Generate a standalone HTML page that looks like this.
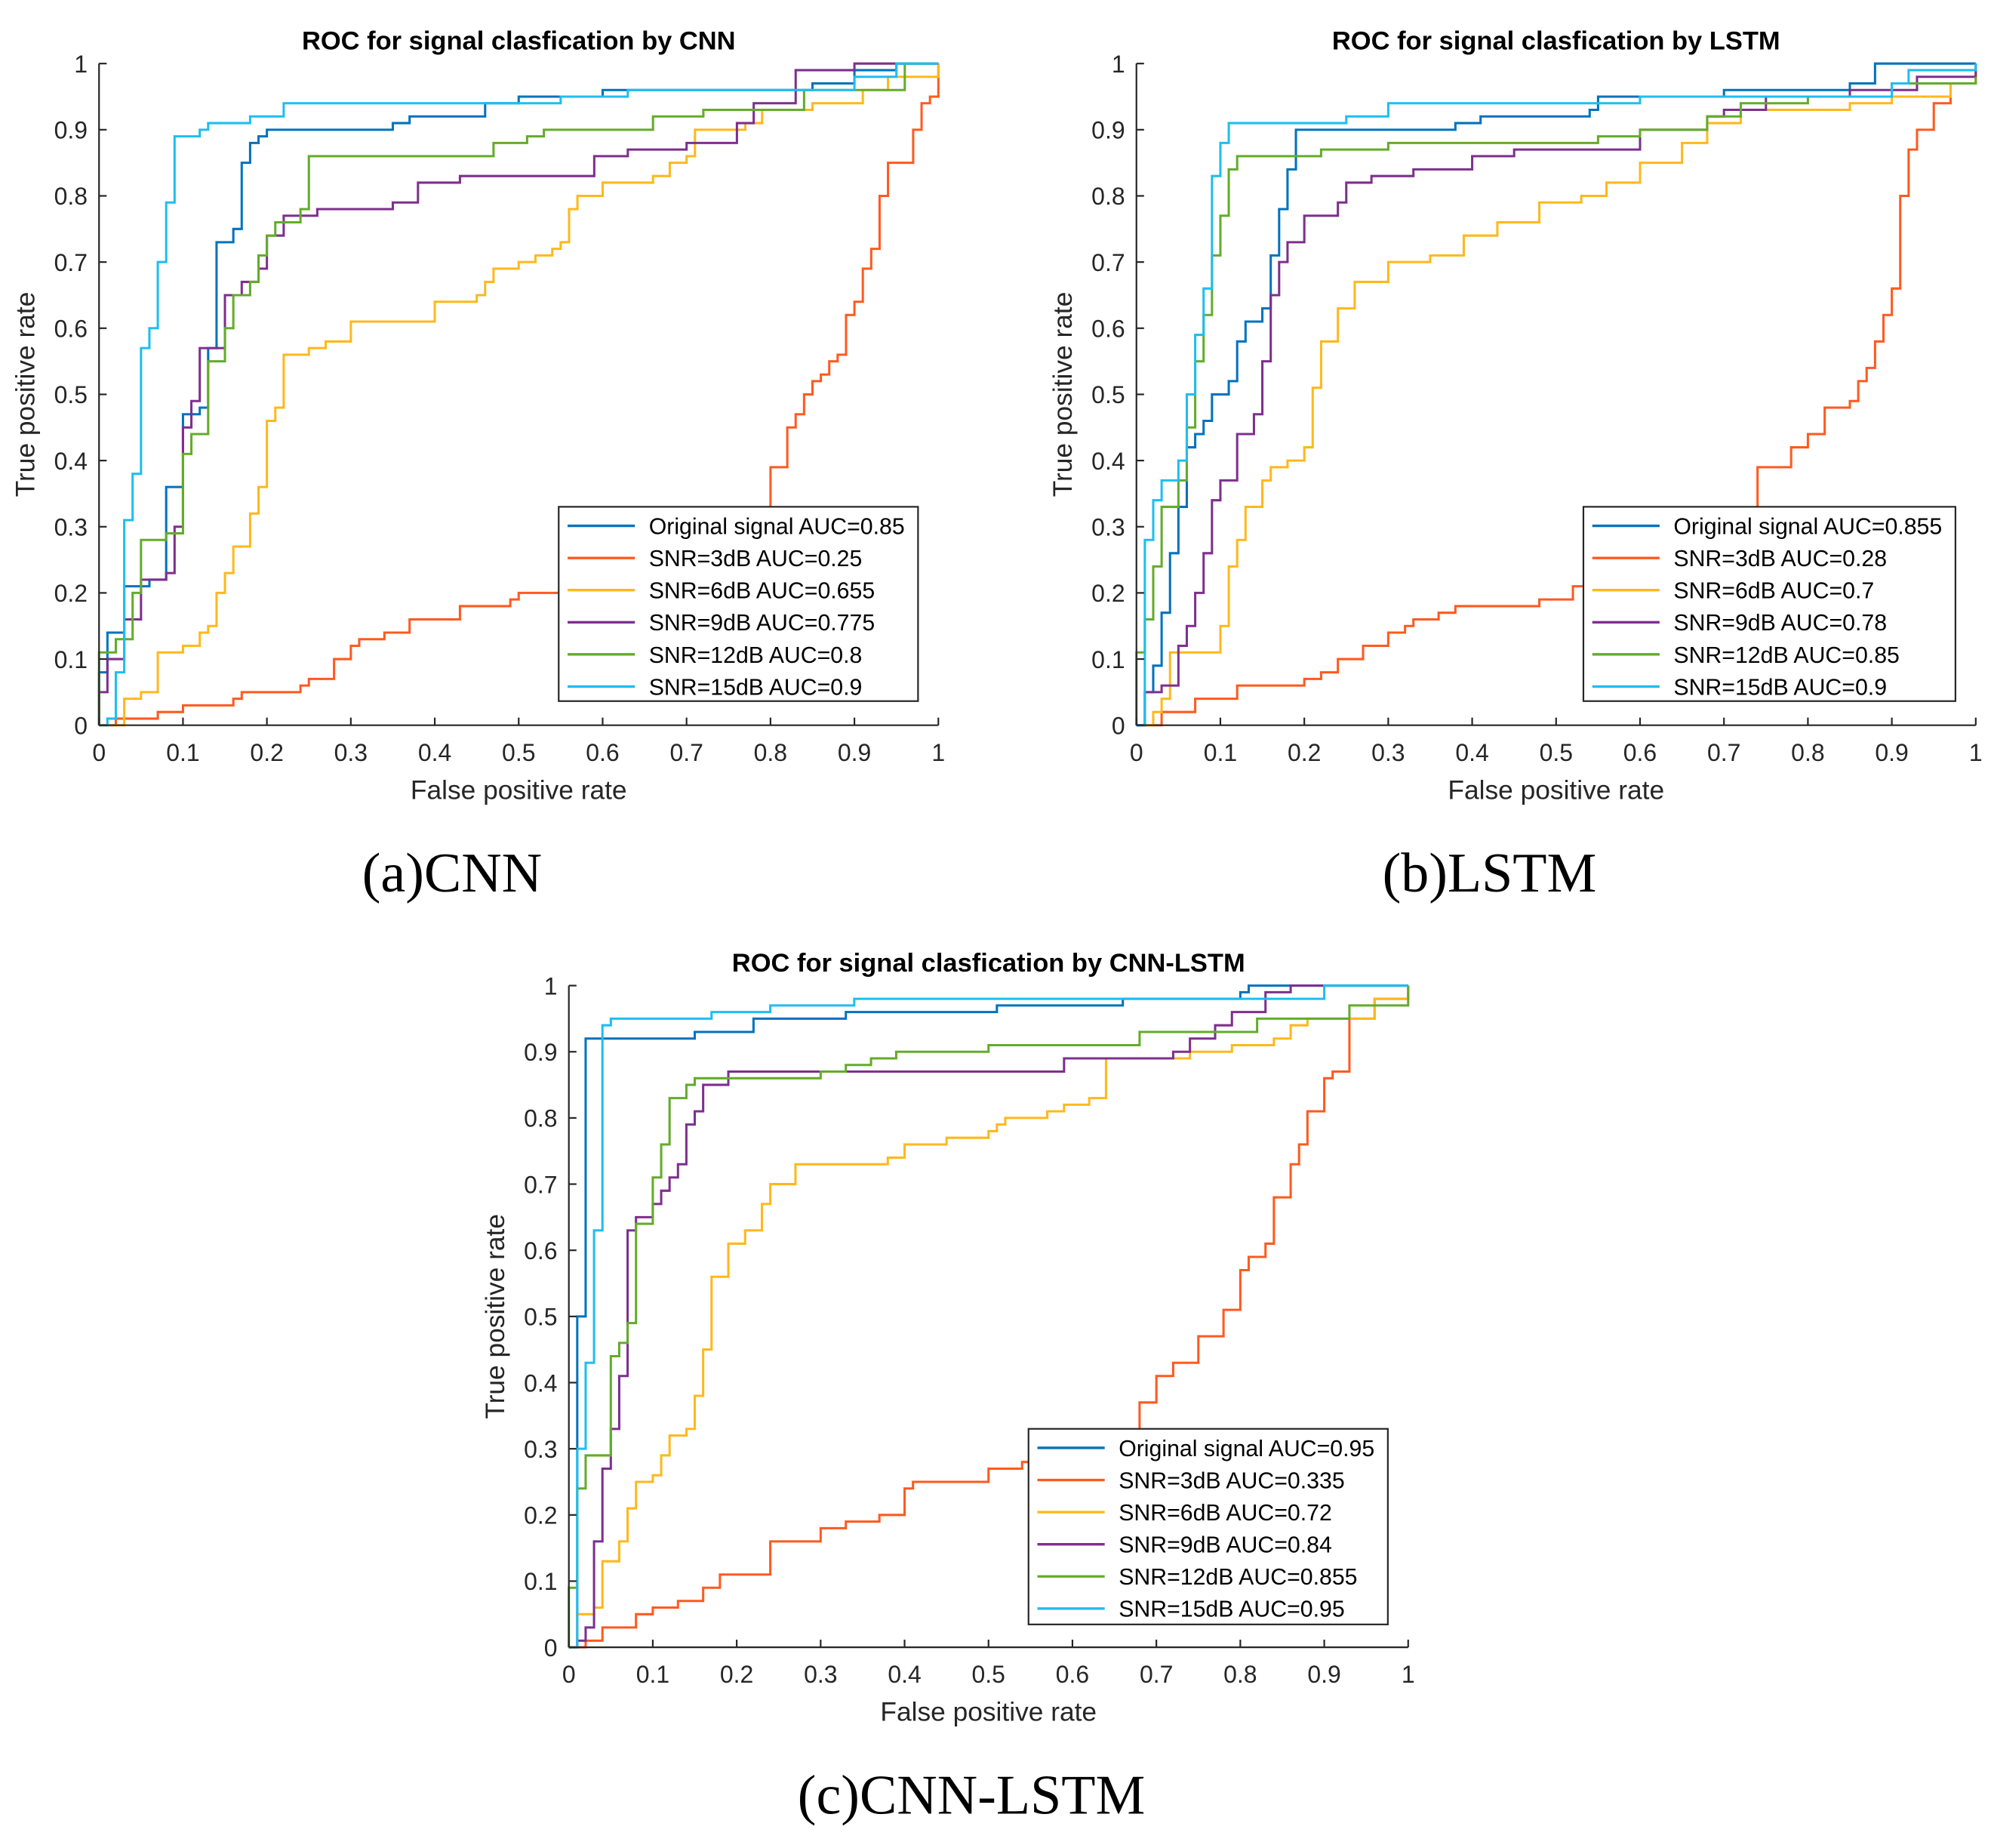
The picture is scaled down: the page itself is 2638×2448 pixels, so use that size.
<!DOCTYPE html>
<html><head><meta charset="utf-8">
<style>
html,body{margin:0;padding:0;background:#fff;}
svg{display:block;}
</style></head>
<body>
<svg id="fig" width="2638" height="2448" viewBox="0 0 1568 1455" xmlns="http://www.w3.org/2000/svg" font-family="Liberation Sans, sans-serif">
<rect width="1568" height="1455" fill="#fff"/>
</svg>
<script>
const xTicks = [0,0.1,0.2,0.3,0.4,0.5,0.6,0.7,0.8,0.9,1];
const yTicks = [0,0.1,0.2,0.3,0.4,0.5,0.6,0.7,0.8,0.9,1];
const tickLabels = ["0","0.1","0.2","0.3","0.4","0.5","0.6","0.7","0.8","0.9","1"];
const seriesColors = ["#0072BD","#FF5A1F","#FFB81C","#7E2F8E","#63AC2A","#1EBEF0"];

const cnnLegend = ["Original signal AUC=0.85","SNR=3dB AUC=0.25","SNR=6dB AUC=0.655","SNR=9dB AUC=0.775","SNR=12dB AUC=0.8","SNR=15dB AUC=0.9"];
const lstmLegend = ["Original signal AUC=0.855","SNR=3dB AUC=0.28","SNR=6dB AUC=0.7","SNR=9dB AUC=0.78","SNR=12dB AUC=0.85","SNR=15dB AUC=0.9"];
const cnnLstmLegend = ["Original signal AUC=0.95","SNR=3dB AUC=0.335","SNR=6dB AUC=0.72","SNR=9dB AUC=0.84","SNR=12dB AUC=0.855","SNR=15dB AUC=0.95"];

const cnnOrig = [[0,0],[0,0.08],[0.01,0.14],[0.03,0.21],[0.06,0.22],[0.08,0.36],[0.1,0.37],[0.1,0.47],[0.12,0.48],[0.13,0.57],[0.14,0.59],[0.14,0.73],[0.16,0.75],[0.17,0.85],[0.18,0.88],[0.19,0.89],[0.2,0.9],[0.35,0.91],[0.37,0.92],[0.46,0.94],[0.5,0.95],[0.6,0.96],[0.85,0.97],[0.9,0.99],[0.95,1],[1,1]];
const cnn3 = [[0,0],[0.02,0.01],[0.07,0.02],[0.1,0.03],[0.16,0.04],[0.17,0.05],[0.24,0.06],[0.25,0.07],[0.28,0.1],[0.3,0.12],[0.31,0.13],[0.34,0.14],[0.37,0.16],[0.43,0.16],[0.43,0.18],[0.49,0.19],[0.5,0.2],[0.55,0.2],[0.59,0.21],[0.75,0.23],[0.8,0.3],[0.8,0.39],[0.82,0.45],[0.83,0.47],[0.84,0.5],[0.85,0.52],[0.86,0.53],[0.87,0.55],[0.88,0.56],[0.89,0.62],[0.9,0.64],[0.91,0.69],[0.92,0.72],[0.93,0.8],[0.94,0.85],[0.97,0.9],[0.98,0.94],[0.99,0.95],[1,0.99],[1,1]];
const cnn6 = [[0,0],[0.03,0.01],[0.03,0.04],[0.05,0.05],[0.07,0.08],[0.07,0.11],[0.1,0.12],[0.12,0.14],[0.13,0.15],[0.14,0.2],[0.15,0.23],[0.16,0.27],[0.18,0.32],[0.19,0.36],[0.2,0.46],[0.21,0.48],[0.22,0.51],[0.22,0.56],[0.25,0.57],[0.27,0.58],[0.3,0.61],[0.38,0.61],[0.4,0.64],[0.45,0.65],[0.46,0.67],[0.47,0.69],[0.5,0.7],[0.52,0.71],[0.54,0.72],[0.55,0.73],[0.56,0.78],[0.57,0.8],[0.6,0.82],[0.66,0.83],[0.68,0.85],[0.7,0.86],[0.71,0.9],[0.77,0.91],[0.79,0.93],[0.85,0.94],[0.91,0.96],[0.94,0.98],[1,0.99],[1,1]];
const cnn9 = [[0,0],[0,0.05],[0.01,0.1],[0.03,0.16],[0.05,0.19],[0.05,0.22],[0.08,0.23],[0.09,0.3],[0.1,0.45],[0.11,0.49],[0.12,0.52],[0.12,0.57],[0.15,0.6],[0.15,0.65],[0.17,0.67],[0.19,0.69],[0.2,0.74],[0.22,0.77],[0.26,0.78],[0.35,0.79],[0.38,0.82],[0.43,0.83],[0.58,0.83],[0.59,0.86],[0.63,0.87],[0.7,0.88],[0.76,0.91],[0.78,0.94],[0.83,0.95],[0.83,0.99],[0.9,1],[1,1]];
const cnn12 = [[0,0],[0,0.11],[0.02,0.13],[0.04,0.2],[0.05,0.22],[0.05,0.28],[0.08,0.29],[0.1,0.41],[0.11,0.44],[0.13,0.45],[0.13,0.55],[0.15,0.6],[0.16,0.65],[0.18,0.67],[0.19,0.71],[0.2,0.74],[0.21,0.76],[0.24,0.78],[0.25,0.81],[0.25,0.86],[0.46,0.86],[0.47,0.88],[0.51,0.89],[0.53,0.9],[0.65,0.9],[0.66,0.92],[0.72,0.93],[0.84,0.96],[0.96,0.97],[0.96,1],[1,1]];
const cnn15 = [[0,0],[0.01,0.01],[0.02,0.08],[0.03,0.17],[0.03,0.31],[0.04,0.38],[0.05,0.57],[0.06,0.6],[0.07,0.7],[0.08,0.79],[0.09,0.89],[0.12,0.9],[0.13,0.91],[0.18,0.92],[0.22,0.94],[0.54,0.94],[0.55,0.95],[0.63,0.96],[0.85,0.96],[0.9,0.98],[0.95,1],[1,1]];

const lstmOrig = [[0,0],[0.01,0.05],[0.02,0.09],[0.03,0.17],[0.04,0.26],[0.05,0.33],[0.06,0.42],[0.07,0.44],[0.08,0.46],[0.09,0.5],[0.11,0.52],[0.12,0.58],[0.13,0.61],[0.15,0.63],[0.16,0.71],[0.17,0.78],[0.18,0.84],[0.19,0.9],[0.36,0.9],[0.38,0.91],[0.41,0.92],[0.54,0.93],[0.55,0.95],[0.7,0.96],[0.85,0.97],[0.88,1],[1,1]];
const lstm3 = [[0,0],[0.03,0.02],[0.07,0.04],[0.12,0.06],[0.2,0.07],[0.22,0.08],[0.24,0.1],[0.27,0.12],[0.3,0.14],[0.32,0.15],[0.33,0.16],[0.36,0.17],[0.38,0.18],[0.48,0.19],[0.52,0.21],[0.55,0.24],[0.7,0.27],[0.73,0.3],[0.74,0.39],[0.78,0.42],[0.8,0.44],[0.82,0.48],[0.85,0.49],[0.86,0.52],[0.87,0.54],[0.88,0.58],[0.89,0.62],[0.9,0.66],[0.91,0.8],[0.92,0.87],[0.93,0.9],[0.95,0.94],[0.97,0.97],[1,1]];
const lstm6 = [[0,0],[0.02,0.02],[0.03,0.04],[0.04,0.11],[0.09,0.11],[0.1,0.15],[0.11,0.24],[0.12,0.28],[0.13,0.33],[0.15,0.37],[0.16,0.39],[0.18,0.4],[0.2,0.42],[0.21,0.51],[0.22,0.58],[0.24,0.63],[0.26,0.67],[0.3,0.7],[0.35,0.71],[0.39,0.74],[0.43,0.76],[0.48,0.79],[0.53,0.8],[0.56,0.82],[0.6,0.85],[0.65,0.88],[0.68,0.91],[0.72,0.93],[0.85,0.94],[0.9,0.95],[0.97,0.97],[1,1]];
const lstm9 = [[0,0],[0.01,0.05],[0.03,0.06],[0.05,0.12],[0.06,0.15],[0.07,0.2],[0.08,0.26],[0.09,0.34],[0.1,0.37],[0.12,0.44],[0.14,0.47],[0.15,0.55],[0.16,0.65],[0.17,0.7],[0.18,0.73],[0.2,0.77],[0.24,0.79],[0.25,0.82],[0.28,0.83],[0.33,0.84],[0.4,0.86],[0.45,0.87],[0.58,0.87],[0.6,0.9],[0.68,0.92],[0.7,0.93],[0.75,0.95],[0.85,0.96],[0.93,0.98],[1,1]];
const lstm12 = [[0,0],[0,0.11],[0.01,0.16],[0.02,0.24],[0.03,0.33],[0.05,0.37],[0.06,0.45],[0.07,0.55],[0.08,0.62],[0.09,0.71],[0.1,0.77],[0.11,0.84],[0.12,0.86],[0.2,0.86],[0.22,0.87],[0.3,0.88],[0.55,0.89],[0.6,0.9],[0.68,0.92],[0.72,0.94],[0.8,0.95],[0.9,0.97],[1,0.98]];
const lstm15 = [[0,0],[0.01,0.28],[0.02,0.34],[0.03,0.37],[0.05,0.4],[0.06,0.5],[0.07,0.59],[0.08,0.66],[0.09,0.83],[0.1,0.88],[0.11,0.91],[0.25,0.92],[0.3,0.94],[0.55,0.94],[0.6,0.95],[0.9,0.97],[0.92,0.99],[1,1]];

const clOrig = [[0,0],[0.01,0.5],[0.02,0.92],[0.15,0.92],[0.15,0.93],[0.22,0.93],[0.22,0.95],[0.33,0.96],[0.51,0.96],[0.51,0.97],[0.66,0.97],[0.66,0.98],[0.78,0.98],[0.8,0.99],[0.81,1],[1,1]];
const cl3 = [[0,0],[0.02,0.01],[0.04,0.03],[0.08,0.05],[0.1,0.06],[0.13,0.07],[0.16,0.09],[0.18,0.11],[0.24,0.16],[0.3,0.18],[0.33,0.19],[0.37,0.2],[0.4,0.24],[0.41,0.25],[0.5,0.27],[0.54,0.28],[0.6,0.3],[0.68,0.33],[0.68,0.37],[0.7,0.41],[0.72,0.43],[0.75,0.47],[0.78,0.51],[0.8,0.57],[0.81,0.59],[0.83,0.61],[0.84,0.68],[0.86,0.73],[0.87,0.76],[0.88,0.81],[0.9,0.86],[0.91,0.87],[0.93,0.95],[0.96,0.98],[1,1]];
const cl6 = [[0,0],[0.01,0.05],[0.03,0.06],[0.04,0.13],[0.06,0.16],[0.07,0.21],[0.08,0.25],[0.1,0.26],[0.11,0.29],[0.12,0.32],[0.14,0.33],[0.15,0.38],[0.16,0.45],[0.17,0.56],[0.19,0.61],[0.21,0.63],[0.23,0.67],[0.24,0.7],[0.27,0.73],[0.38,0.74],[0.4,0.76],[0.45,0.77],[0.5,0.78],[0.51,0.79],[0.52,0.8],[0.57,0.81],[0.59,0.82],[0.62,0.83],[0.64,0.89],[0.73,0.89],[0.74,0.9],[0.79,0.91],[0.84,0.92],[0.86,0.94],[0.88,0.95],[0.96,0.98],[1,1]];
const cl9 = [[0,0],[0.01,0.01],[0.02,0.03],[0.03,0.16],[0.04,0.27],[0.05,0.33],[0.06,0.41],[0.07,0.63],[0.08,0.65],[0.1,0.67],[0.11,0.69],[0.12,0.71],[0.13,0.73],[0.14,0.79],[0.15,0.81],[0.16,0.85],[0.19,0.87],[0.57,0.87],[0.59,0.89],[0.69,0.89],[0.72,0.9],[0.74,0.92],[0.77,0.94],[0.79,0.96],[0.83,0.97],[0.83,0.99],[0.86,1],[1,1]];
const cl12 = [[0,0],[0,0.09],[0.01,0.24],[0.02,0.29],[0.05,0.3],[0.05,0.44],[0.06,0.46],[0.07,0.49],[0.08,0.64],[0.1,0.66],[0.1,0.71],[0.11,0.76],[0.12,0.83],[0.14,0.85],[0.15,0.86],[0.3,0.86],[0.3,0.87],[0.33,0.88],[0.36,0.89],[0.39,0.9],[0.5,0.9],[0.5,0.91],[0.67,0.91],[0.68,0.93],[0.81,0.93],[0.82,0.95],[0.93,0.97],[1,0.98],[1,1]];
const cl15 = [[0,0],[0.01,0.02],[0.01,0.3],[0.02,0.43],[0.03,0.63],[0.04,0.94],[0.05,0.95],[0.17,0.96],[0.24,0.97],[0.34,0.98],[0.89,0.98],[0.9,1],[1,1]];

const NS = "http://www.w3.org/2000/svg";
const svg = document.getElementById('fig');
function mk(tag, attrs, parent){
  const e = document.createElementNS(NS, tag);
  for (const k in attrs) e.setAttribute(k, attrs[k]);
  (parent||svg).appendChild(e);
  return e;
}
function txt(str, attrs, parent){ const t = mk('text', attrs, parent); t.textContent = str; return t; }

function drawPlot(id, box, title, series, legendLabels, legBox, caption, capPos){
  const g = mk('g', {});
  
  
  const sx = v => box.x0 + v * (box.x1 - box.x0);
  const sy = v => box.y0 - v * (box.y0 - box.y1);
  const t = txt(title, {x:(box.x0+box.x1)/2, y:box.y1-11, 'text-anchor':'middle', 'font-size':20.5, 'font-weight':'bold', fill:'#000'}, g);
  
  
  series.forEach((pts, i) => {
    let d = 'M' + sx(pts[0][0]).toFixed(2) + ' ' + sy(pts[0][1]).toFixed(2);
    for (let k = 1; k < pts.length; k++) {
      d += ' H' + sx(pts[k][0]).toFixed(2) + ' V' + sy(pts[k][1]).toFixed(2);
    }
    const p = mk('path', {d:d, fill:'none', stroke:seriesColors[i], 'stroke-width':1.8}, g);
    
    
  });
  const ax = mk('g', {stroke:'#262626', 'stroke-width':1.3, fill:'none'}, g);
  
  
  mk('line', {x1:box.x0, y1:box.y0, x2:box.x1, y2:box.y0}, ax);
  mk('line', {x1:box.x0, y1:box.y0, x2:box.x0, y2:box.y1}, ax);
  xTicks.forEach((v, i) => {
    mk('line', {x1:sx(v), y1:box.y0, x2:sx(v), y2:box.y0-6}, ax);
    const l = txt(tickLabels[i], {x:sx(v), y:box.y0+28, 'text-anchor':'middle', 'font-size':19, fill:'#262626'}, g);
    
    
  });
  yTicks.forEach((v, i) => {
    mk('line', {x1:box.x0, y1:sy(v), x2:box.x0+6, y2:sy(v)}, ax);
    const l = txt(tickLabels[i], {x:box.x0-9, y:sy(v)+7, 'text-anchor':'end', 'font-size':19, fill:'#262626'}, g);
    
    
  });
  const xl = txt('False positive rate', {x:(box.x0+box.x1)/2, y:box.y0+58, 'text-anchor':'middle', 'font-size':21, fill:'#262626'}, g);
  
  
  const cy = (box.y0+box.y1)/2;
  const yl = txt('True positive rate', {x:box.x0-51, y:cy, 'text-anchor':'middle', 'font-size':21, fill:'#262626', transform:'rotate(-90 '+(box.x0-51)+' '+cy+')'}, g);
  
  
  const lg = mk('g', {}, g);
  
  
  mk('rect', {x:legBox.x, y:legBox.y, width:legBox.w, height:legBox.h, fill:'#fff', stroke:'#262626', 'stroke-width':1.3}, lg);
  legendLabels.forEach((lab, i) => {
    const ry = legBox.y + 15 + i * 25.3;
    const e = mk('g', {}, lg);
    
    
    mk('line', {x1:legBox.x+7, y1:ry, x2:legBox.x+60, y2:ry, stroke:seriesColors[i], 'stroke-width':2}, e);
    txt(lab, {x:legBox.x+71, y:ry+6.5, 'font-size':18, fill:'#000'}, e);
  });
  const c = txt(caption, {x:capPos.x, y:capPos.y, 'text-anchor':'middle', 'font-size':44, fill:'#000', style:'font-family:"Liberation Serif",serif'}, g);
  
  
}

drawPlot('cnn', {x0:78, x1:739, y0:571, y1:50}, 'ROC for signal clasfication by CNN',
  [cnnOrig, cnn3, cnn6, cnn9, cnn12, cnn15], cnnLegend, {x:440, y:399, w:283, h:153}, '(a)CNN', {x:356, y:702});
drawPlot('lstm', {x0:895, x1:1556, y0:571, y1:50}, 'ROC for signal clasfication by LSTM',
  [lstmOrig, lstm3, lstm6, lstm9, lstm12, lstm15], lstmLegend, {x:1247, y:399, w:293, h:153}, '(b)LSTM', {x:1173, y:702});
drawPlot('cnn-lstm', {x0:448, x1:1109, y0:1297, y1:776}, 'ROC for signal clasfication by CNN-LSTM',
  [clOrig, cl3, cl6, cl9, cl12, cl15], cnnLstmLegend, {x:810, y:1125, w:283, h:154}, '(c)CNN-LSTM', {x:765, y:1428});
</script>
</body></html>
